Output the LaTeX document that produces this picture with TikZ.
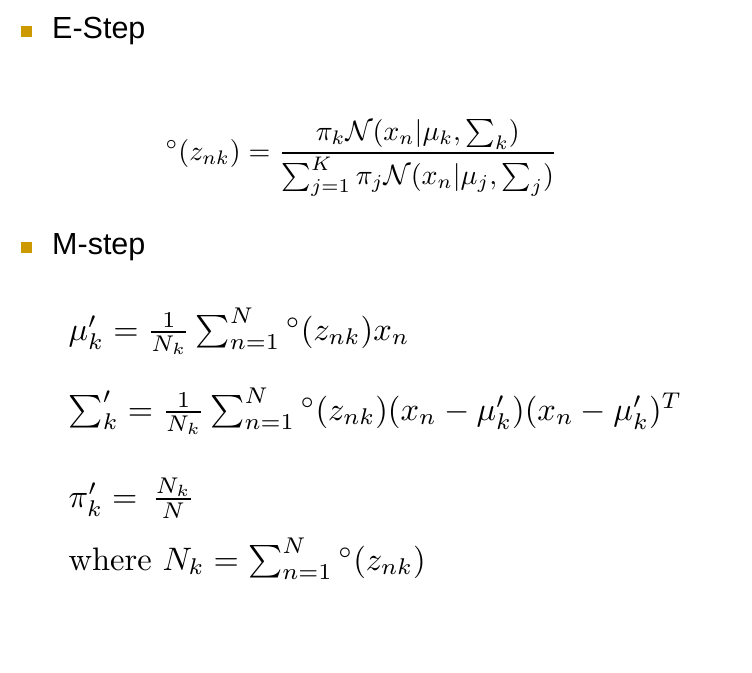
\documentclass[tikz,border=0pt]{standalone}
\usepackage{amsmath}
\usepackage{fontspec}
\newfontfamily\headfont{Liberation Sans}
\definecolor{bulletgold}{RGB}{204,153,0}
\newcommand{\resp}{{}^{\circ}}

\begin{document}
\begin{tikzpicture}[x=1pt, y=-1pt,
		bullet/.style={fill=bulletgold, minimum size=11pt, inner sep=0pt},
		head/.style={anchor=base west, inner sep=0pt, font=\headfont\fontsize{30.5}{36}\selectfont},
		eqn/.style={anchor=base west, inner sep=0pt, scale=3.25, font=\fontsize{10}{12}\selectfont}]
			\useasboundingbox (0,0) rectangle (752,672);
			% E-step
			\node[bullet] (b-e) at (26.5,31) {};
			\node[head] (estep) at (52,38) {E-Step};
			\node[eqn, scale=2.8/3.25] (resp) at (165,160)
				{$\resp(z_{nk}) = \dfrac{\pi_k\mathcal{N}(x_n|\mu_k,\sum_k)}{\sum_{j=1}^{K}\pi_j\mathcal{N}(x_n|\mu_j,\sum_j)}$};
			% M-step
			\node[bullet] (b-m) at (26.5,247.5) {};
			\node[head] (mstep) at (52,254) {M-step};
			\node[eqn] (mu) at (68,340) {$\mu'_k = \frac{1}{N_k}\sum_{n=1}^{N}\resp(z_{nk})x_n$};
			\node[eqn] (sigma) at (68,420) {$\sum'_k = \frac{1}{N_k}\sum_{n=1}^{N}\resp(z_{nk})(x_n-\mu'_k)(x_n-\mu'_k)^T$};
			\node[eqn] (pi) at (68,507) {$\pi'_k = \,\frac{N_k}{N}$};
			\node[eqn] (nk) at (68,570) {where $N_k = \sum_{n=1}^{N}\resp(z_{nk})$};
		\end{tikzpicture}
\end{document}
